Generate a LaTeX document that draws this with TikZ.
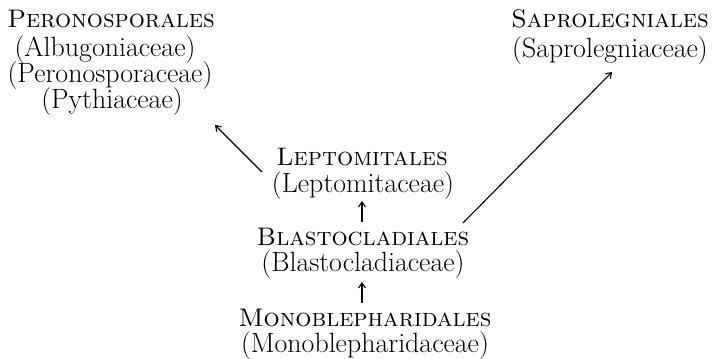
\documentclass[tikz,border=0pt]{standalone}
\usetikzlibrary{arrows.meta}
\begin{document}
\begin{tikzpicture}[x=1bp,y=-1bp,
  lbl/.style={anchor=base,inner sep=0pt,text height=17bp,text depth=5bp,font=\fontsize{28}{28}\selectfont},
  hdr/.style={anchor=base,inner sep=0pt,font=\fontsize{25.5}{26}\selectfont\scshape},
  conn/.style={line width=1.1bp,-{Straight Barb[length=5bp,width=7bp,line width=1.1bp]}}]
\useasboundingbox (0,0) rectangle (714,358);
% Peronosporales
\node[hdr] (perH) at (111,27) {Peronosporales};
\node[lbl] (per1) at (105,56) {(Albugoniaceae)};
\node[lbl] (per2) at (110,82) {(Peronosporaceae)};
\node[lbl] (per3) at (112,108.5) {(Pythiaceae)};
% Saprolegniales
\node[hdr] (sapH) at (610,27) {Saprolegniales};
\node[lbl] (sap1) at (610,57) {(Saprolegniaceae)};
% Leptomitales
\node[hdr] (lepH) at (362,165) {Leptomitales};
\node[lbl] (lep1) at (363,192) {(Leptomitaceae)};
% Blastocladiales
\node[hdr] (blaH) at (363,245) {Blastocladiales};
\node[lbl] (bla1) at (363,271) {(Blastocladiaceae)};
% Monoblepharidales
\node[hdr] (monH) at (365,326) {Monoblepharidales};
\node[lbl] (mon1) at (365,352) {(Monoblepharidaceae)};
% connector ends
\coordinate (aLs) at (262,172);
\coordinate (aLe) at (215,125);
\coordinate (aRs) at (463,223);
\coordinate (aRe) at (612,72);
\coordinate (v1s) at (362,222);
\coordinate (v1e) at (362,201);
\coordinate (v2s) at (362,303);
\coordinate (v2e) at (362,282);
\draw[conn] (aLs) -- (aLe);
\draw[conn] (aRs) -- (aRe);
\draw[conn] (v1s) -- (v1e);
\draw[conn] (v2s) -- (v2e);
\end{tikzpicture}
\end{document}
